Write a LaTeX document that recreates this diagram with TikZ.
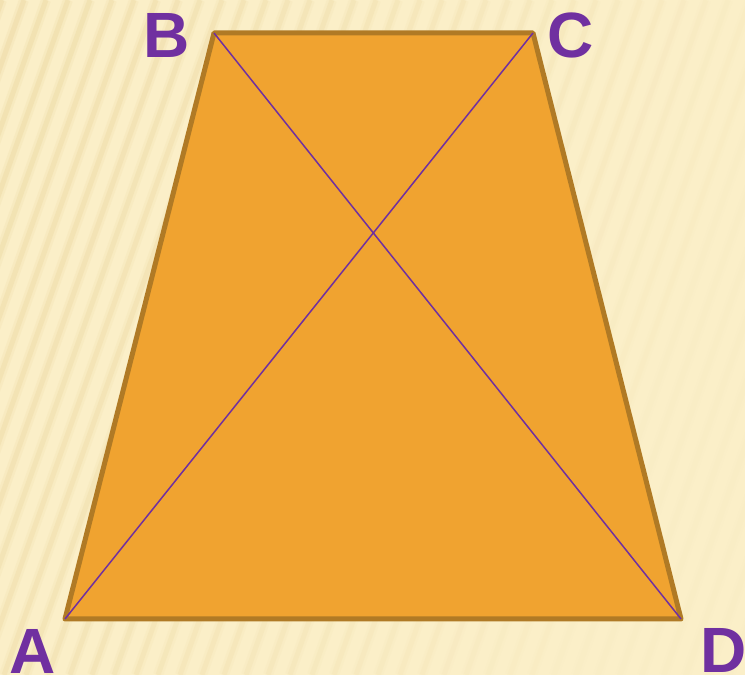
\documentclass[tikz,border=0pt]{standalone}
\usepackage{fontspec}
\setmainfont{Liberation Sans}
\definecolor{bgc}{HTML}{FBEFC8}
\definecolor{stripec}{HTML}{EEDBA6}
\definecolor{fillc}{HTML}{F0A330}
\definecolor{edgec}{HTML}{B07A25}
\definecolor{diagc}{HTML}{7030A0}
\tikzset{
  lbl/.style={font=\fontsize{64}{64}\selectfont\bfseries, text=diagc, inner sep=0pt},
  vtx/.style={inner sep=0pt, minimum size=0pt},
  trap/.style={draw=edgec, fill=fillc, line width=5pt, line join=round},
  diag/.style={draw=diagc, line width=1.5pt}
}
\begin{document}
\begin{tikzpicture}[x=1pt,y=1pt]
\useasboundingbox (0,0) rectangle (745,675);
\fill[bgc] (0,0) rectangle (745,675);
\begin{scope}
\clip (0,0) rectangle (745,675);
\foreach \i in {-260,-238,...,760}{
  \pgfmathsetmacro{\op}{max(0.05,0.45-0.0006*(\i+120))}
  \draw[stripec, line width=10pt, opacity=\op*0.5] (\i,0) -- ++(240,675);
  \draw[stripec, line width=5pt, opacity=\op] (\i,0) -- ++(240,675);
}
\end{scope}
\node[vtx] (A) at (65,56) {};
\node[vtx] (B) at (214,642) {};
\node[vtx] (C) at (533,642) {};
\node[vtx] (D) at (681,56) {};
\path[trap] (A.center) -- (B.center) -- (C.center) -- (D.center) -- cycle;
\draw[diag] (A.center) -- (C.center);
\draw[diag] (B.center) -- (D.center);
\node[lbl] (lA) at (33,24) {A};
\node[lbl] (lB) at (167,640) {B};
\node[lbl] (lC) at (571,640) {C};
\node[lbl] (lD) at (724,25) {D};
\end{tikzpicture}
\end{document}
